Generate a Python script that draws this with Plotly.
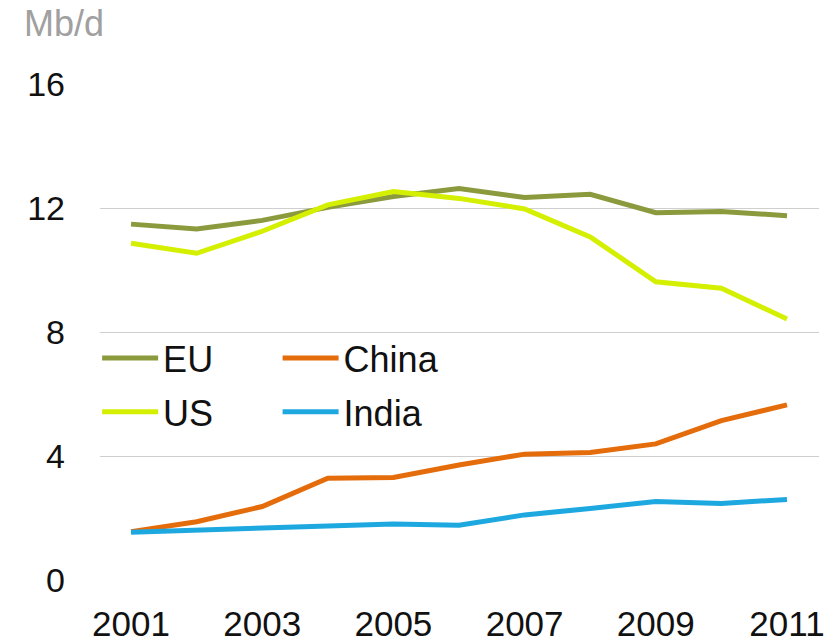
import plotly.graph_objects as go

years = [2001, 2002, 2003, 2004, 2005, 2006, 2007, 2008, 2009, 2010, 2011]
eu = [11.48, 11.32, 11.60, 12.02, 12.37, 12.63, 12.34, 12.44, 11.85, 11.89, 11.75]
us = [10.86, 10.54, 11.25, 12.10, 12.53, 12.31, 11.97, 11.07, 9.62, 9.41, 8.42]
china = [1.56, 1.88, 2.37, 3.28, 3.31, 3.71, 4.06, 4.11, 4.39, 5.14, 5.65]
india = [1.54, 1.61, 1.67, 1.77, 1.81, 1.77, 2.10, 2.31, 2.53, 2.47, 2.60]
x_ticks = [2001, 2003, 2005, 2007, 2009, 2011]
y_ticks = [0, 4, 8, 12, 16]

colors = {"EU": "#8C9A3E", "US": "#D4F000", "China": "#E46C0A", "India": "#1EA8E0"}

fig = go.Figure()
series = [("EU", eu, "legend"), ("US", us, "legend"),
          ("China", china, "legend2"), ("India", india, "legend2")]
for name, vals, leg in series:
    fig.add_trace(go.Scatter(x=years, y=vals, name=name, mode="lines",
                             line=dict(color=colors[name], width=5),
                             legend=leg, legendgroup=name))

legfont = dict(family="Liberation Sans, Arial, sans-serif", size=36, color="#111111")
fig.update_layout(
    width=828, height=636,
    margin=dict(l=92, r=17, t=76, b=64),
    paper_bgcolor="white", plot_bgcolor="white",
    font=dict(family="Liberation Sans, Arial, sans-serif", size=34, color="#111111"),
    xaxis=dict(range=[2000.527, 2011.488], tickmode="array", tickvals=x_ticks,
               showgrid=False, zeroline=False, showline=False, ticks="",
               automargin=False, ticklabelstandoff=20, tickfont=dict(size=35)),
    yaxis=dict(range=[0, 16], tickmode="array", tickvals=y_ticks,
               showgrid=True, gridcolor="#CFCFCF", gridwidth=1,
               zeroline=False, showline=False, ticks="", automargin=False,
               ticklabelstandoff=34, tickfont=dict(size=34)),
    legend=dict(x=-0.004, y=0.508, xanchor="left", yanchor="top",
                traceorder="grouped", tracegroupgap=4,
                font=legfont, bgcolor="rgba(0,0,0,0)", itemwidth=56),
    legend2=dict(x=0.247, y=0.508, xanchor="left", yanchor="top",
                 traceorder="grouped", tracegroupgap=4,
                 font=legfont, bgcolor="rgba(0,0,0,0)", itemwidth=56),
    showlegend=True,
)
fig.add_annotation(text="Mb/d", xref="paper", yref="paper", x=-0.108, y=1.0,
                   yshift=61, xanchor="left", yanchor="middle", showarrow=False,
                   font=dict(size=36, color="#A0A0A0"))
fig.write_html("out.html")
